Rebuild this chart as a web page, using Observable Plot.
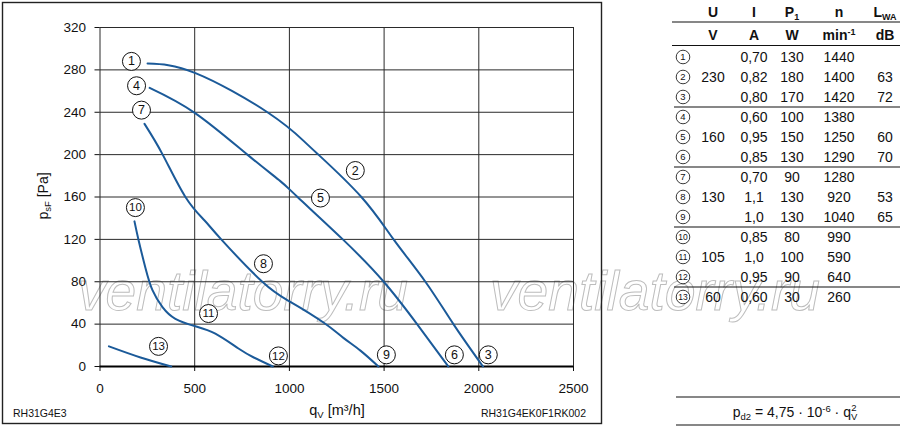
<!DOCTYPE html>
<html>
<head>
<meta charset="utf-8">
<script src="https://cdn.jsdelivr.net/npm/d3@7"></script>
<script src="https://cdn.jsdelivr.net/npm/@observablehq/plot@0.6"></script>
<style>
  html, body { margin: 0; padding: 0; background: #fff; }
  #wrap { position: relative; width: 900px; height: 428px; overflow: hidden; font-family: "Liberation Sans", Arial, Helvetica, sans-serif; }
  #bg { position: absolute; left: 0; top: 0; }
  #chart { position: absolute; left: 0; top: 0; }
</style>
</head>
<body>
<div id="wrap">
  <svg id="bg" width="900" height="428"></svg>
  <div id="chart"></div>
</div>
<script>
// ---------- data ----------
const xTicks = [0, 500, 1000, 1500, 2000, 2500];
const yTicks = [0, 40, 80, 120, 160, 200, 240, 280, 320];

// curve 1-2-3 (230 V)
const curveAq = [251, 504, 884, 1075, 1153, 1380, 1550, 1718, 1866, 2022];
const curveAp = [286, 277, 240, 213, 200, 160, 120, 80, 40, 0];
// curve 4-5-6 (160 V)
const curveBq = [262, 504, 778, 952, 1043, 1282, 1498, 1674, 1839];
const curveBp = [263, 239, 200, 175, 160, 120, 80, 40, 0];
// curve 7-8-9 (130 V)
const curveCq = [235, 331, 451, 551, 640, 857, 1005, 1180, 1285, 1375, 1470];
const curveCp = [229, 200, 160, 138, 120, 80, 61, 41.5, 27, 15, 0];
// curve 10-11-12 (105 V)
const curveDq = [182, 204, 240, 277, 330, 398, 504, 609, 731, 812, 912];
const curveDp = [137, 119, 93, 72, 56, 45, 38, 31, 17, 8.5, 0];
// curve 13 (60 V)
const curveEq = [47, 214, 376];
const curveEp = [19, 8.5, 0];

// circled operating-point labels on the chart
const labelIds = ["1","2","3","4","5","6","7","8","9","10","11","12","13"];
const labelQ = [166, 1348, 2050, 193, 1164, 1871, 219, 863, 1512, 187, 573, 942, 309];
const labelP = [288, 185, 11, 265, 159, 11, 242, 97, 11, 150, 50, 10, 19];

// table
const tableIds = ["1","2","3","4","5","6","7","8","9","10","11","12","13"];
const tableU   = ["", "230", "", "", "160", "", "", "130", "", "", "105", "", "60"];
const tableI   = ["0,70","0,82","0,80","0,60","0,95","0,85","0,70","1,1","1,0","0,85","1,0","0,95","0,60"];
const tableP1  = ["130","180","170","100","150","130","90","130","130","80","100","90","30"];
const tableN   = ["1440","1400","1420","1380","1250","1290","1280","920","1040","990","590","640","260"];
const tableLWA = ["", "63", "72", "", "60", "70", "", "53", "65", "", "", "", ""];

const blue = "#1b5a99";
const font = "'Liberation Sans', Arial, Helvetica, sans-serif";

// ---------- build mark data ----------
const curves = [[curveAq, curveAp, "A"], [curveBq, curveBp, "B"], [curveCq, curveCp, "C"], [curveDq, curveDp, "D"], [curveEq, curveEp, "E"]];
const linePts = curves.flatMap(([qs, ps, id]) => qs.map((q, i) => ({q, p: ps[i], id})));
const labels = labelIds.map((t, i) => ({t, q: labelQ[i], p: labelP[i]}));

const chart = Plot.plot({
  width: 605,
  height: 428,
  marginLeft: 99.5,
  marginRight: 32,
  marginTop: 27,
  marginBottom: 62,
  style: {background: "transparent", fontFamily: font, fontSize: "13px", color: "#111", overflow: "visible"},
  x: {domain: [0, 2500]},
  y: {domain: [0, 320]},
  marks: [
    Plot.gridX(xTicks, {stroke: "#2a2a2a", strokeOpacity: 1, strokeWidth: 1}),
    Plot.gridY(yTicks, {stroke: "#2a2a2a", strokeOpacity: 1, strokeWidth: 1}),
    Plot.axisX(xTicks, {tickSize: 5, tickPadding: 12, label: null, fontSize: 13.5, stroke: "#111", tickFormat: d => String(d)}),
    Plot.axisY(yTicks, {tickSize: 5, tickPadding: 9, label: null, fontSize: 13.5, stroke: "#111", tickFormat: d => String(d)}),
    Plot.ruleY([0], {stroke: "#000", strokeWidth: 2.2}),
    Plot.line(linePts, {x: "q", y: "p", z: "id", curve: "natural", stroke: blue, strokeWidth: 2}),
    Plot.dot(labels, {x: "q", y: "p", r: 9, fill: "white", stroke: "#111", strokeWidth: 1}),
    Plot.text(labels, {x: "q", y: "p", text: "t", fontSize: d => d.t.length > 1 ? 11.5 : 12.5, fill: "#111", fontFamily: font})
  ]
});
document.getElementById("chart").appendChild(chart);

// ---------- background layer: frame, watermark, titles, table ----------
const bg = d3.select("#bg").style("font-family", font);

// watermark
[[78, 310], [490, 310]].forEach(([x, y]) => {
  bg.append("text").attr("x", x).attr("y", y)
    .attr("font-size", 55).attr("font-style", "italic")
    .attr("fill", "none").attr("stroke", "#bdbdbd").attr("stroke-width", 1)
    .attr("textLength", 330).attr("lengthAdjust", "spacingAndGlyphs")
    .text("ventilatorry.ru");
});

// frame around chart
bg.append("rect").attr("x", 2.5).attr("y", 2.5).attr("width", 599).attr("height", 421)
  .attr("fill", "none").attr("stroke", "#222").attr("stroke-width", 1.4);

// y title
const yt = bg.append("text").attr("transform", "translate(48,196) rotate(-90)")
  .attr("text-anchor", "middle").attr("font-size", 14).attr("fill", "#111");
yt.append("tspan").text("p");
yt.append("tspan").attr("font-size", 9.5).attr("dy", 3).text("sF");
yt.append("tspan").attr("dy", -3).text(" [Pa]");

// x title
const xt = bg.append("text").attr("x", 337).attr("y", 415)
  .attr("text-anchor", "middle").attr("font-size", 14.5).attr("fill", "#111");
xt.append("tspan").text("q");
xt.append("tspan").attr("font-size", 9.5).attr("dy", 3).text("V");
xt.append("tspan").attr("dy", -3).text(" [m³/h]");

bg.append("text").attr("x", 13).attr("y", 417).attr("font-size", 10.5).attr("fill", "#111").text("RH31G4E3");
bg.append("text").attr("x", 586).attr("y", 417).attr("text-anchor", "end").attr("font-size", 10.5).attr("fill", "#111").text("RH31G4EK0F1RK002");

// table
const colU = 713, colI = 754, colP = 792, colN = 839, colL = 885, colId = 683;
const hdr = bg.append("g").attr("font-weight", "bold").attr("font-size", 14).attr("fill", "#111").attr("text-anchor", "middle");
hdr.append("text").attr("x", colU).attr("y", 17).text("U");
hdr.append("text").attr("x", colI).attr("y", 17).text("I");
const hp = hdr.append("text").attr("x", colP).attr("y", 17);
hp.append("tspan").text("P");
hp.append("tspan").attr("font-size", 9).attr("dy", 3).text("1");
hdr.append("text").attr("x", colN).attr("y", 17).text("n");
const hl = hdr.append("text").attr("x", colL).attr("y", 17);
hl.append("tspan").text("L");
hl.append("tspan").attr("font-size", 9).attr("dy", 3).text("WA");
hdr.append("text").attr("x", colU).attr("y", 40).text("V");
hdr.append("text").attr("x", colI).attr("y", 40).text("A");
hdr.append("text").attr("x", colP).attr("y", 40).text("W");
const hm = hdr.append("text").attr("x", colN).attr("y", 40);
hm.append("tspan").text("min");
hm.append("tspan").attr("font-size", 9).attr("dy", -5).text("-1");
hdr.append("text").attr("x", colL).attr("y", 40).text("dB");

[[672, 22], [672, 45.5], [674, 107], [674, 167], [674, 227], [674, 287], [676, 397], [676, 425]].forEach(([x0, y]) => {
  bg.append("line").attr("x1", x0).attr("x2", 900).attr("y1", y).attr("y2", y)
    .attr("stroke", "#111").attr("stroke-width", 1.1);
});

const rows = bg.append("g").attr("font-size", 14).attr("fill", "#111").attr("text-anchor", "middle");
tableIds.forEach((id, i) => {
  const cy = 57 + 20 * i;
  rows.append("circle").attr("cx", colId).attr("cy", cy).attr("r", 6.8)
    .attr("fill", "white").attr("stroke", "#222").attr("stroke-width", 0.9);
  rows.append("text").attr("x", colId).attr("y", cy + 3.3).attr("font-size", id.length > 1 ? 8.5 : 9.5).text(id);
  rows.append("text").attr("x", colU).attr("y", cy + 5).text(tableU[i]);
  rows.append("text").attr("x", colI).attr("y", cy + 5).text(tableI[i]);
  rows.append("text").attr("x", colP).attr("y", cy + 5).text(tableP1[i]);
  rows.append("text").attr("x", colN).attr("y", cy + 5).text(tableN[i]);
  rows.append("text").attr("x", colL).attr("y", cy + 5).text(tableLWA[i]);
});

// formula
const f = bg.append("text").attr("x", 795).attr("y", 417).attr("text-anchor", "middle").attr("font-size", 14).attr("fill", "#111");
f.append("tspan").text("p");
f.append("tspan").attr("font-size", 9.5).attr("dy", 3).text("d2");
f.append("tspan").attr("dy", -3).text(" = 4,75 · 10");
f.append("tspan").attr("font-size", 9.5).attr("dy", -5).text("-6");
f.append("tspan").attr("dy", 5).text(" · q");
f.append("tspan").attr("font-size", 9.5).attr("dy", 3).text("V");
f.append("tspan").attr("font-size", 9.5).attr("dy", -9).attr("dx", -6).text("2");
</script>
</body>
</html>
